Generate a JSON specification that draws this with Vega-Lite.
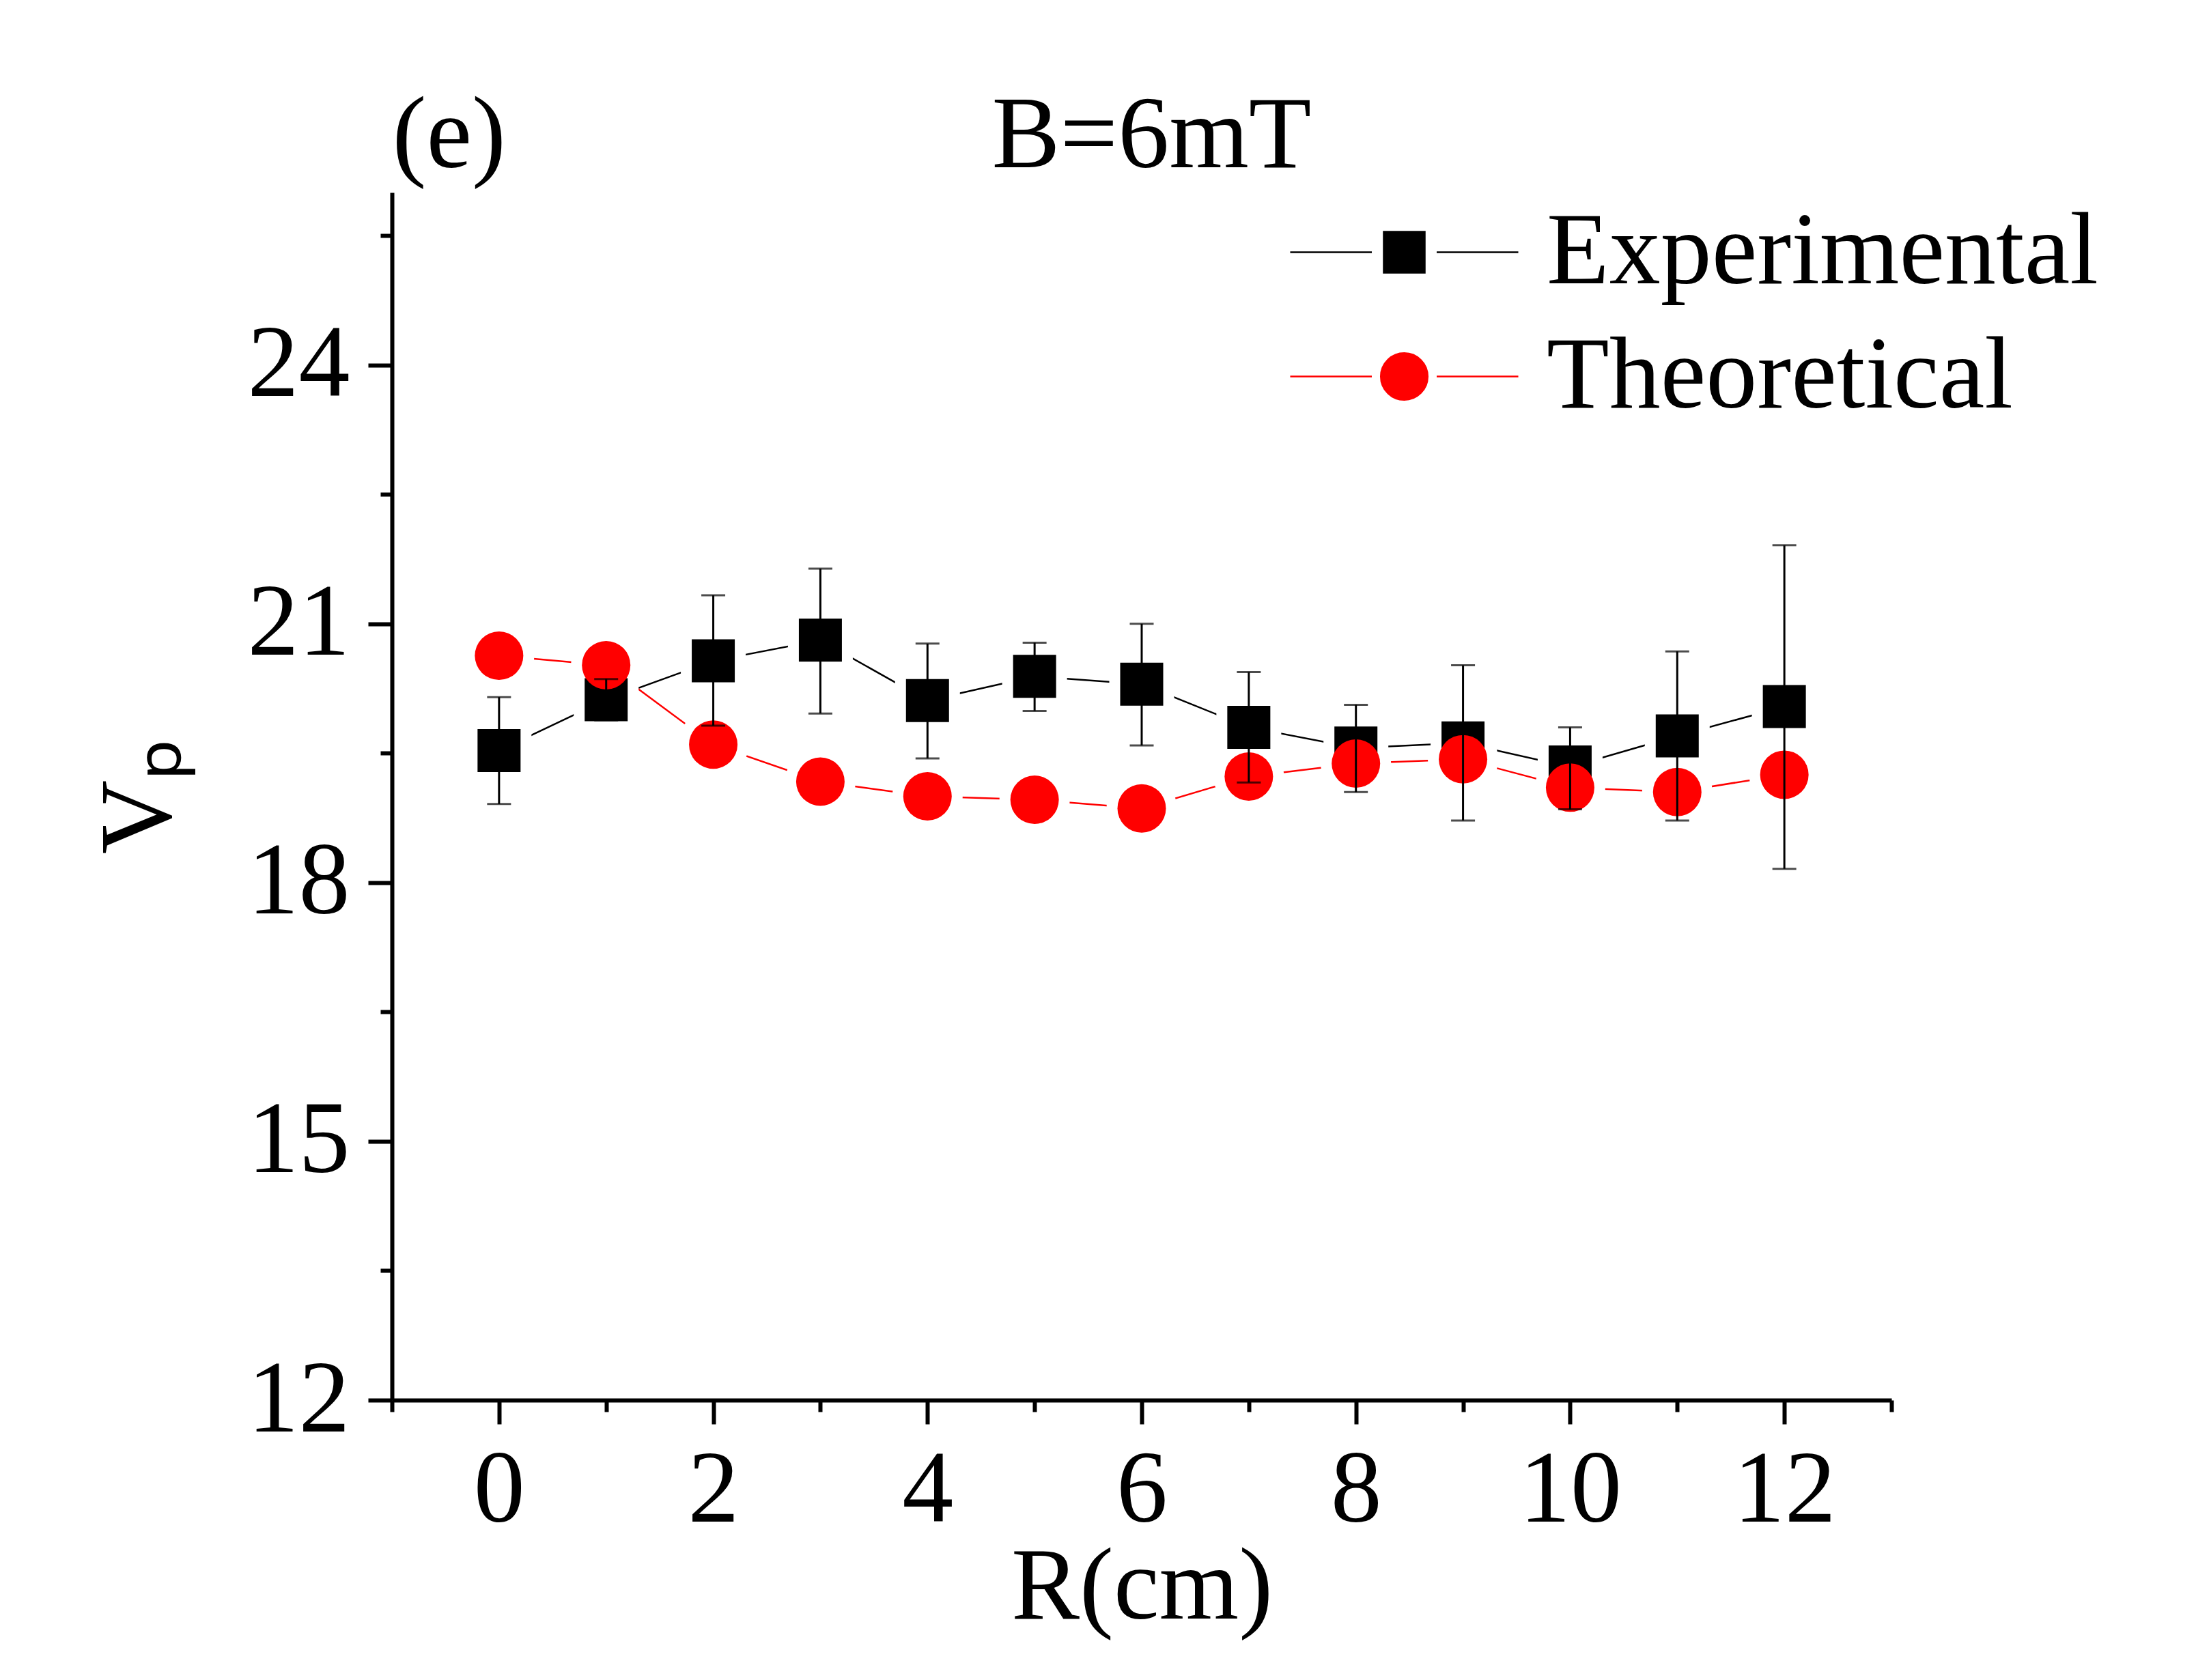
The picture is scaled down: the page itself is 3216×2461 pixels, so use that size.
{
  "$schema": "https://vega.github.io/schema/vega-lite/v6.json",
  "background": "white",
  "autosize": {"type": "none"},
  "padding": {"left": 574, "top": 282, "right": 446, "bottom": 410},
  "width": 2196,
  "height": 1769,
  "datasets": {
    "vp": [
      {"R": 0, "series": "Experimental", "Vp": 19.53, "lo": 18.91, "hi": 20.15},
      {"R": 1, "series": "Experimental", "Vp": 20.12, "lo": 19.88, "hi": 20.36},
      {"R": 2, "series": "Experimental", "Vp": 20.57, "lo": 19.82, "hi": 21.33},
      {"R": 3, "series": "Experimental", "Vp": 20.81, "lo": 19.96, "hi": 21.64},
      {"R": 4, "series": "Experimental", "Vp": 20.11, "lo": 19.44, "hi": 20.77},
      {"R": 5, "series": "Experimental", "Vp": 20.39, "lo": 19.99, "hi": 20.78},
      {"R": 6, "series": "Experimental", "Vp": 20.30, "lo": 19.59, "hi": 21.00},
      {"R": 7, "series": "Experimental", "Vp": 19.80, "lo": 19.16, "hi": 20.44},
      {"R": 8, "series": "Experimental", "Vp": 19.56, "lo": 19.05, "hi": 20.06},
      {"R": 9, "series": "Experimental", "Vp": 19.62, "lo": 18.72, "hi": 20.52},
      {"R": 10, "series": "Experimental", "Vp": 19.34, "lo": 18.85, "hi": 19.80},
      {"R": 11, "series": "Experimental", "Vp": 19.70, "lo": 18.72, "hi": 20.68},
      {"R": 12, "series": "Experimental", "Vp": 20.04, "lo": 18.16, "hi": 21.91},
      {"R": 0, "series": "Theoretical", "Vp": 20.63},
      {"R": 1, "series": "Theoretical", "Vp": 20.52},
      {"R": 2, "series": "Theoretical", "Vp": 19.60},
      {"R": 3, "series": "Theoretical", "Vp": 19.17},
      {"R": 4, "series": "Theoretical", "Vp": 19.00},
      {"R": 5, "series": "Theoretical", "Vp": 18.96},
      {"R": 6, "series": "Theoretical", "Vp": 18.86},
      {"R": 7, "series": "Theoretical", "Vp": 19.23},
      {"R": 8, "series": "Theoretical", "Vp": 19.38},
      {"R": 9, "series": "Theoretical", "Vp": 19.43},
      {"R": 10, "series": "Theoretical", "Vp": 19.10},
      {"R": 11, "series": "Theoretical", "Vp": 19.05},
      {"R": 12, "series": "Theoretical", "Vp": 19.25}
    ]
  },
  "data": {"name": "vp"},
  "resolve": {"axis": {"x": "independent", "y": "independent"}},
  "layer": [
    {
      "mark": {"type": "line", "strokeWidth": 2.5},
      "encoding": {
        "x": {
          "field": "R", "type": "quantitative",
          "scale": {"domain": [-1, 13], "nice": false, "zero": false},
          "axis": {"orient": "bottom", "values": [-1, 1, 3, 5, 7, 9, 11, 13], "tickSize": 17, "labels": false, "domain": false, "title": null}
        },
        "y": {
          "field": "Vp", "type": "quantitative",
          "scale": {"domain": [12, 26], "nice": false, "zero": false},
          "axis": {"orient": "left", "values": [13.5, 16.5, 19.5, 22.5, 25.5], "tickSize": 17, "labels": false, "domain": false, "title": null}
        },
        "color": {
          "field": "series", "type": "nominal",
          "scale": {"domain": ["Experimental", "Theoretical"], "range": ["#000000", "#ff0000"]},
          "legend": {
            "orient": "none",
            "legendX": 1406,
            "legendY": 11,
            "title": null,
            "padding": 0,
            "labelFont": "Liberation Serif",
            "labelFontSize": 150,
            "labelColor": "black",
            "labelLimit": 3000,
            "labelOffset": 132,
            "rowPadding": 30,
            "symbolSize": 22500,
            "symbolStrokeWidth": 2.5,
            "encode": {
              "symbols": {
                "update": {
                  "shape": {"signal": "datum.value === 'Experimental' ? 'M-2.227,0H-0.633M0.633,0H2.227M-0.4,-0.4H0.4V0.4H-0.4Z' : 'M-2.227,0H-0.633M0.633,0H2.227M0.457,0A0.457,0.457 0 1,1 -0.457,0A0.457,0.457 0 1,1 0.457,0Z'"},
                  "fill": {"signal": "datum.value === 'Experimental' ? '#000000' : '#ff0000'"},
                  "stroke": {"signal": "datum.value === 'Experimental' ? '#000000' : '#ff0000'"},
                  "opacity": {"value": 1}
                }
              }
            }
          }
        }
      }
    },
    {
      "transform": [{"filter": "datum.series === 'Experimental'"}],
      "mark": {"type": "point", "shape": "square", "filled": true, "size": 9025, "color": "white", "opacity": 1},
      "encoding": {
        "x": {
          "field": "R", "type": "quantitative",
          "scale": {"domain": [-1, 13], "nice": false, "zero": false},
          "axis": {"orient": "top", "ticks": false, "labels": false, "domain": false, "title": "(e)", "titleAnchor": "start", "titleBaseline": "alphabetic", "titlePadding": 38}
        },
        "y": {
          "field": "Vp", "type": "quantitative",
          "scale": {"domain": [12, 26], "nice": false, "zero": false},
          "axis": null
        }
      }
    },
    {
      "transform": [{"filter": "datum.series === 'Theoretical'"}],
      "mark": {"type": "point", "shape": "circle", "filled": true, "size": 10609, "color": "white", "opacity": 1},
      "encoding": {
        "x": {
          "field": "R", "type": "quantitative",
          "scale": {"domain": [-1, 13], "nice": false, "zero": false},
          "axis": {"orient": "top", "ticks": false, "labels": false, "domain": false, "title": "B=6mT", "titleX": 1112, "titleAlign": "center", "titleBaseline": "alphabetic", "titlePadding": 38}
        },
        "y": {
          "field": "Vp", "type": "quantitative",
          "scale": {"domain": [12, 26], "nice": false, "zero": false},
          "axis": null
        }
      }
    },
    {
      "encoding": {
        "x": {
          "field": "R", "type": "quantitative",
          "scale": {"domain": [-1, 13], "nice": false, "zero": false},
          "axis": {"orient": "bottom", "values": [0, 2, 4, 6, 8, 10, 12], "format": "d", "tickSize": 35, "labelPadding": 23, "labelFlush": false, "labelOverlap": false, "title": "R(cm)", "titlePadding": 0}
        },
        "y": {
          "field": "Vp", "type": "quantitative",
          "scale": {"domain": [12, 26], "nice": false, "zero": false},
          "axis": {"orient": "left", "values": [12, 15, 18, 21, 24], "format": "d", "tickSize": 35, "labelPadding": 27, "labelFlush": false, "labelOverlap": false, "title": "Vₚ", "titlePadding": 94}
        }
      },
      "layer": [
        {
          "transform": [{"filter": "datum.series === 'Experimental'"}],
          "mark": {"type": "point", "shape": "square", "filled": true, "size": 3969, "color": "#000000", "opacity": 1}
        },
        {
          "transform": [{"filter": "datum.series === 'Theoretical'"}],
          "mark": {"type": "point", "shape": "circle", "filled": true, "size": 5041, "color": "#ff0000", "opacity": 1}
        },
        {
          "transform": [{"filter": "datum.series === 'Experimental'"}],
          "mark": {"type": "errorbar", "color": "#000000", "ticks": {"size": 35, "thickness": 3}, "rule": {"strokeWidth": 3}},
          "encoding": {
            "y": {"field": "lo", "type": "quantitative", "title": "Vₚ"},
            "y2": {"field": "hi"}
          }
        }
      ]
    }
  ],
  "config": {
    "view": {"stroke": null},
    "axis": {
      "labelFont": "Liberation Serif",
      "labelFontSize": 150,
      "labelColor": "black",
      "labelAngle": 0,
      "titleFont": "Liberation Serif",
      "titleFontSize": 150,
      "titleFontWeight": "normal",
      "titleColor": "black",
      "domainColor": "black",
      "domainWidth": 6,
      "tickColor": "black",
      "tickWidth": 6,
      "grid": false
    }
  }
}
